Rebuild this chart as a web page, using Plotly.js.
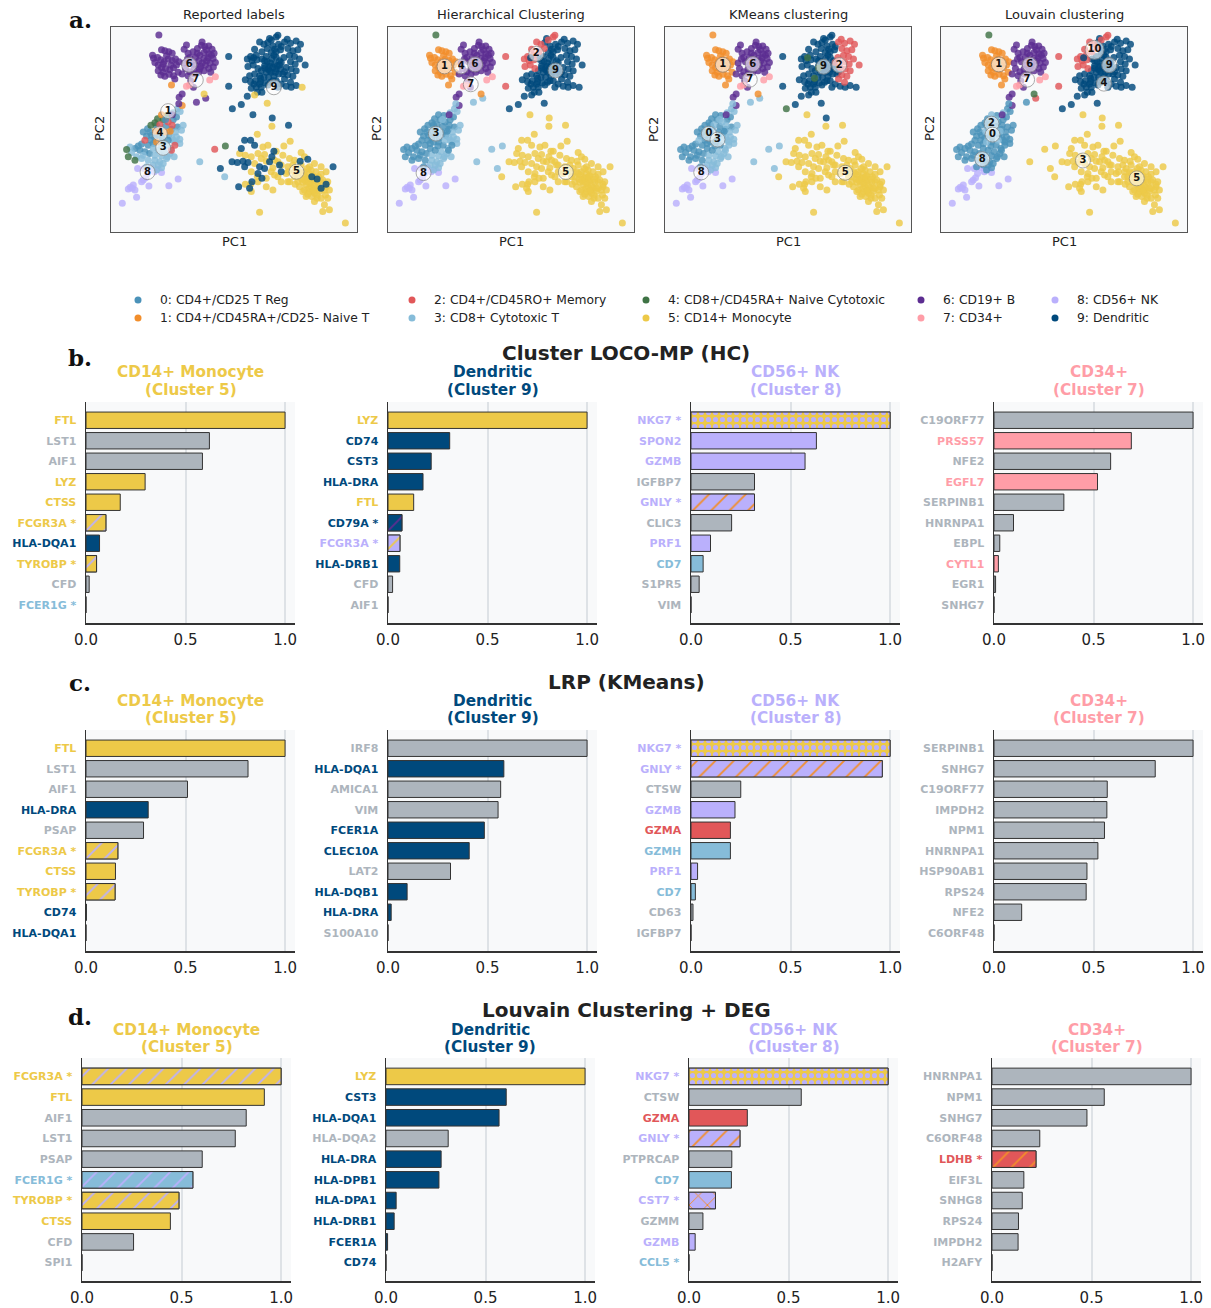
<!DOCTYPE html>
<html><head><meta charset="utf-8">
<script src="https://cdn.plot.ly/plotly-3.0.1.min.js"></script>
<style>body{margin:0;background:#fff}</style>
</head><body><div id="chart" style="width:1211px;height:1308px"></div>
<script>
// ---------- legend / clusters ----------
const clusterNames = ['0: CD4+/CD25 T Reg','1: CD4+/CD45RA+/CD25- Naive T','2: CD4+/CD45RO+ Memory','3: CD8+ Cytotoxic T','4: CD8+/CD45RA+ Naive Cytotoxic','5: CD14+ Monocyte','6: CD19+ B','7: CD34+','8: CD56+ NK','9: Dendritic'];
const clusterColors = ['#4b92b9','#f28e2b','#e15759','#86bcd9','#3f7345','#edc948','#5c2d91','#ff9da7','#bab0fc','#00497c'];
const grayColor = '#adb5bd';
const scatterTitles = ['Reported labels','Hierarchical Clustering','KMeans clustering','Louvain clustering'];

// ---------- PCA points (PC1, PC2 pairs), colour index per panel: [reported, HC, KMeans, Louvain] ----------
const grpOutlierTop = [152,27];
const grpBcellLeft = [160,72,170,75,182,78,192,82,133,88,136,97,148,95,158,102,168,108,180,100,192,104,202,100,212,108,205,118,196,126,185,132,172,128,160,125,150,118,158,148,170,152,183,146,196,150,210,140,200,160,165,140,140,110,175,90,188,118,165,115,150,135];
const grpOrangeRep = [190,178];
const grpOrangeRep2 = [222,240];
const grpBcellRight = [235,57,282,48,228,70,240,82,255,78,268,68,290,62,302,60,312,70,318,82,302,84,288,80,275,88,262,95,272,106,288,98,300,96,315,98,322,110,306,112,292,118,278,122,262,118,250,108,238,100,228,112,232,128,245,138,258,145,272,140,288,135,302,128,316,124,240,150,222,145,248,165,256,185,222,205,213,215,192,268,295,72,280,58,245,95,308,140,296,105,282,112,268,82,310,88,258,130,275,130];
const grpPink = [235,182,244,178,305,163,322,153];
const grpBridgeBlue = [212,235,265,230];
const grpBridgeRed = [293,218];
const grpBridgeGreen = [288,205];
const grpDcTopLeft = [455,48,468,55,490,42,505,33,478,68,462,78,445,88,428,92,418,100,432,105,447,102,420,122,436,118,450,128,362,92,362,182,440,70,510,28];
const grpDcRight = [530,48,548,52,565,45,578,55,540,68,555,75,570,72,545,88,560,92,575,100,592,118,548,108,562,115,535,125,550,130,565,135,540,148,555,152,530,160,548,170,520,110,528,95,538,40];
const grpDc = [480,50,495,60,512,55,518,72,505,78,490,80,475,92,462,100,478,108,492,98,505,95,515,105,500,115,485,122,470,120,460,135,475,140,490,140,505,130,518,130,512,145,498,152,482,155,468,155,455,150,440,145,425,150,412,162,428,168,442,165,458,168,472,172,488,170,505,165,520,175,535,182,550,185,565,180,445,185,460,185,430,188,448,200,462,200,418,212,400,237,498,88,485,135,508,120,488,112,495,125,480,130,470,105,503,140,515,118,525,145,530,138,495,165,480,178,510,185,455,175,438,175,520,62,500,70,485,38];
const grpDcYellowRep = [583,185,478,233,440,208];
const grpDcGreenKm = [373,250,437,96,470,127,458,158];
const grpDcMid = [493,278];
const grpMono = [492,303,448,327,547,348,528,362,465,365,480,360,505,378,450,385,470,388,395,385,412,390,525,390,545,400,560,405,580,382,590,395,620,415,640,425,655,440,440,415,475,408,510,410,495,428,430,440,448,455,490,440,500,450,535,445,565,430,575,440,590,440,605,445,615,452,598,458,582,462,570,470,585,472,600,470,615,468,630,472,645,465,660,470,595,480,610,485,625,488,575,485,562,478,545,470,590,495,605,500,620,505,635,500,650,495,665,495,595,515,612,515,628,520,640,520,660,520,620,530,650,540,645,560,665,555,455,562,713,595,412,478,450,470,475,485,495,495,520,470,540,470,560,455,428,478,430,500,542,440,555,420,580,420,605,425,625,440,640,448,610,435,598,430,587,450,603,490,618,495,632,455,653,510,475,460,510,455,600,460,607,475,590,465,620,480,635,490,615,498,628,510,600,508,585,500,612,462,640,470,655,485,570,455,580,445,560,440,520,420,540,425,500,405,460,400,430,395];
const grpMonoNavyRep = [410,345,428,345,440,360,400,370,405,408,420,412,388,412,372,410,455,425,492,395,498,378,485,410,392,485,425,490,462,460,450,445,577,408,600,402,612,455,628,462,655,478,676,425,640,490,520,440,470,430,432,470,410,425,515,420,435,268,542,300];
const grpMiscRed = [320,372];
const grpMiscGreen = [352,362];
const grpMiscLight = [275,410];
const grpMiscNavy = [337,430];
const grpMiscLight2 = [350,455];
const grpNK = [88,430,108,430,128,428,150,432,160,442,118,445,105,465,75,480,66,487,60,492,80,495,72,490,122,483,85,517,42,535,182,482,210,462,112,458,100,470,138,440];
const grpTcellA = [195,283,205,275,172,303,208,305,118,310,105,320,115,332,130,330,128,345,100,356,120,360,80,370,95,375,110,380,124,385,150,310,162,338,140,338,182,330,90,362,150,330,160,350,135,355,125,320,145,300,190,312];
const grpTcellB = [220,315,202,320,205,335,215,342,196,345,215,355,188,370,168,380,185,385,160,392,140,405,155,410,135,420,145,435,160,428,140,390,208,250,216,258,225,300,198,395,175,400,178,395,165,415,150,420,200,350,190,335];
const grpTcellC = [174,360,158,362,135,370,150,375,120,405,100,400,85,395,70,382,65,365,115,425,105,390];
const grpTcellGreen = [148,280,165,283,140,292,128,300,60,395,80,405,55,373,176,270];
const grpTcellRed = [180,290,155,298,192,300,110,345,200,360,190,375];
const grpTcellOrange = [142,318,170,320,186,318,145,350,160,268];
const grpTcellG = [180,345,172,282,195,262];

const pointGroups = [
  [grpMono,[5,5,5,5]],[grpMonoNavyRep,[9,5,5,5]],[grpDcMid,[9,5,9,5]],
  [grpMiscRed,[2,3,3,5]],[grpMiscGreen,[4,3,3,5]],[grpMiscLight,[3,3,3,5]],[grpMiscNavy,[9,3,3,5]],[grpMiscLight2,[3,5,5,5]],
  [grpDc,[9,9,9,9]],[grpDcTopLeft,[9,2,9,2]],[grpDcRight,[9,9,2,9]],[grpDcYellowRep,[5,9,9,9]],[grpDcGreenKm,[9,9,4,9]],
  [grpNK,[8,8,8,8]],
  [grpTcellA,[0,0,0,0]],[grpTcellB,[3,3,3,0]],[grpTcellC,[3,0,0,0]],[grpTcellGreen,[4,0,0,0]],[grpTcellRed,[2,0,3,0]],[grpTcellOrange,[1,0,0,3]],[grpTcellG,[0,3,3,3]],
  [grpBcellLeft,[6,1,1,1]],[grpOutlierTop,[6,4,1,4]],[grpOrangeRep,[1,1,1,1]],[grpOrangeRep2,[1,6,6,6]],
  [grpBcellRight,[6,6,6,6]],[grpBridgeBlue,[6,3,3,0]],[grpBridgeRed,[6,3,3,2]],[grpBridgeGreen,[5,1,1,4]],
  [grpPink,[7,7,7,7]]
];

// cluster id markers [label, PC1, PC2]
const centersReported = [['6',243,117],['7',263,163],['9',498,185],['1',180,257],['4',155,325],['3',165,368],['8',118,441],['5',566,440]];
const centersHC = [['1',178,122],['4',228,122],['6',270,116],['7',257,176],['2',454,84],['9',512,134],['3',152,325],['8',115,444],['5',543,441]];
const centersKMeans = [['1',182,117],['6',272,115],['7',263,162],['9',485,123],['2',532,118],['0',140,325],['3',166,343],['8',117,442],['5',550,443]];
const centersLouvain = [['10',470,72],['1',182,116],['6',275,117],['7',267,162],['9',514,118],['4',498,174],['2',160,295],['0',163,328],['8',132,402],['3',435,406],['5',597,460]];
const allCenters = [centersReported,centersHC,centersKMeans,centersLouvain];

// ---------- bar panels (style: 1 char = solid colour; 4 chars = label, fill, hatch, hatch colour) ----------
const rowTitles = ['Cluster LOCO-MP (HC)','LRP (KMeans)','Louvain Clustering + DEG'];
const colTitles = [['CD14+ Monocyte','(Cluster 5)'],['Dendritic','(Cluster 9)'],['CD56+ NK','(Cluster 8)'],['CD34+','(Cluster 7)']];
const colTitleKeys = ['Y','N','L','P'];

const hcMonoGenes = ['FTL','LST1','AIF1','LYZ','CTSS','FCGR3A *','HLA-DQA1','TYROBP *','CFD','FCER1G *'];
const hcMonoValues = [1.0,0.62,0.585,0.297,0.172,0.10,0.068,0.053,0.016,0];
const hcMonoStyle = ['Y','G','G','Y','Y','YY/L','N','YY/L','G','B'];
const hcDcGenes = ['LYZ','CD74','CST3','HLA-DRA','FTL','CD79A *','FCGR3A *','HLA-DRB1','CFD','AIF1'];
const hcDcValues = [1.0,0.31,0.217,0.176,0.129,0.07,0.06,0.059,0.023,0];
const hcDcStyle = ['Y','N','N','N','Y','NN/U','LL/Y','N','G','G'];
const hcNkGenes = ['NKG7 *','SPON2','GZMB','IGFBP7','GNLY *','CLIC3','PRF1','CD7','S1PR5','VIM'];
const hcNkValues = [1.0,0.63,0.573,0.319,0.319,0.204,0.098,0.061,0.041,0];
const hcNkStyle = ['LY.L','L','L','G','LL/O','G','L','B','G','G'];
const hcCd34Genes = ['C19ORF77','PRSS57','NFE2','EGFL7','SERPINB1','HNRNPA1','EBPL','CYTL1','EGR1','SNHG7'];
const hcCd34Values = [1.0,0.69,0.586,0.52,0.351,0.098,0.029,0.022,0.008,0];
const hcCd34Style = ['G','P','G','P','G','G','G','P','G','G'];

const lrpMonoGenes = ['FTL','LST1','AIF1','HLA-DRA','PSAP','FCGR3A *','CTSS','TYROBP *','CD74','HLA-DQA1'];
const lrpMonoValues = [1.0,0.814,0.51,0.3125,0.289,0.16,0.148,0.146,0.002,0];
const lrpMonoStyle = ['Y','G','G','N','G','YY/L','Y','YY/L','N','N'];
const lrpDcGenes = ['IRF8','HLA-DQA1','AMICA1','VIM','FCER1A','CLEC10A','LAT2','HLA-DQB1','HLA-DRA','S100A10'];
const lrpDcValues = [1.0,0.582,0.566,0.553,0.484,0.408,0.314,0.096,0.016,0];
const lrpDcStyle = ['G','N','G','G','N','N','G','N','N','G'];
const lrpNkGenes = ['NKG7 *','GNLY *','CTSW','GZMB','GZMA','GZMH','PRF1','CD7','CD63','IGFBP7'];
const lrpNkValues = [1.0,0.961,0.25,0.221,0.198,0.198,0.033,0.022,0.01,0];
const lrpNkStyle = ['LY.L','LL/O','G','L','R','B','L','B','G','G'];
const lrpCd34Genes = ['SERPINB1','SNHG7','C19ORF77','IMPDH2','NPM1','HNRNPA1','HSP90AB1','RPS24','NFE2','C6ORF48'];
const lrpCd34Values = [1.0,0.81,0.569,0.567,0.555,0.522,0.467,0.463,0.139,0];
const lrpCd34Style = ['G','G','G','G','G','G','G','G','G','G'];

const degMonoGenes = ['FCGR3A *','FTL','AIF1','LST1','PSAP','FCER1G *','TYROBP *','CTSS','CFD','SPI1'];
const degMonoValues = [1.0,0.916,0.825,0.77,0.604,0.557,0.487,0.444,0.259,0];
const degMonoStyle = ['YY/L','Y','G','G','G','BB/L','YY/L','Y','G','G'];
const degDcGenes = ['LYZ','CST3','HLA-DQA1','HLA-DQA2','HLA-DRA','HLA-DPB1','HLA-DPA1','HLA-DRB1','FCER1A','CD74'];
const degDcValues = [1.0,0.604,0.568,0.3125,0.277,0.266,0.051,0.041,0.008,0];
const degDcStyle = ['Y','N','N','G','N','N','N','N','N','N'];
const degNkGenes = ['NKG7 *','CTSW','GZMA','GNLY *','PTPRCAP','CD7','CST7 *','GZMM','GZMB','CCL5 *'];
const degNkValues = [1.0,0.564,0.293,0.256,0.215,0.213,0.133,0.07,0.031,0];
const degNkStyle = ['LY.L','G','R','LL/O','G','B','LLxO','G','L','B'];
const degCd34Genes = ['HNRNPA1','NPM1','SNHG7','C6ORF48','LDHB *','EIF3L','SNHG8','RPS24','IMPDH2','H2AFY'];
const degCd34Values = [1.0,0.564,0.477,0.24,0.221,0.16,0.152,0.133,0.131,0];
const degCd34Style = ['G','G','G','G','RR/O','G','G','G','G','G'];

const barPanels = [
  [hcMonoGenes,hcMonoValues,hcMonoStyle],[hcDcGenes,hcDcValues,hcDcStyle],[hcNkGenes,hcNkValues,hcNkStyle],[hcCd34Genes,hcCd34Values,hcCd34Style],
  [lrpMonoGenes,lrpMonoValues,lrpMonoStyle],[lrpDcGenes,lrpDcValues,lrpDcStyle],[lrpNkGenes,lrpNkValues,lrpNkStyle],[lrpCd34Genes,lrpCd34Values,lrpCd34Style],
  [degMonoGenes,degMonoValues,degMonoStyle],[degDcGenes,degDcValues,degDcStyle],[degNkGenes,degNkValues,degNkStyle],[degCd34Genes,degCd34Values,degCd34Style]
];

// ---------- build ----------
const W = 1211, H = 1308;
const fx = p => p / W, fy = p => 1 - p / H;
const colorKey = {Y:clusterColors[5],N:clusterColors[9],L:clusterColors[8],B:clusterColors[3],R:clusterColors[2],P:clusterColors[7],O:clusterColors[1],U:clusterColors[6],G:grayColor};
const FONT = 'DejaVu Sans, sans-serif';

const traces = [];
const layout = {
  width: W, height: H, margin: {l:0,r:0,t:0,b:0},
  paper_bgcolor: '#ffffff', plot_bgcolor: '#f8f9fa', showlegend: false,
  font: {family: FONT, color: '#222'}, annotations: [], shapes: [], barmode: 'overlay'
};
const ann = (text, x, y, opts) => layout.annotations.push(Object.assign({text, x: fx(x), y: fy(y), xref:'paper', yref:'paper', showarrow:false, xanchor:'center', yanchor:'middle'}, opts || {}));

// scatter panels
const scatterX = [[111,357],[388,634],[665,911],[941,1187]];
for (let p = 0; p < 4; p++) {
  const sfx = p === 0 ? '' : String(p + 1);
  const xs = [], ys = [], cs = [];
  pointGroups.forEach(([pts, labs]) => {
    for (let i = 0; i < pts.length; i += 2) { xs.push(pts[i]); ys.push(pts[i+1]); cs.push(clusterColors[labs[p]]); }
  });
  traces.push({type:'scatter', mode:'markers', x:xs, y:ys, xaxis:'x'+sfx, yaxis:'y'+sfx,
    marker:{color:cs, size:7, opacity:0.82, line:{width:0}}, hoverinfo:'skip'});
  const cen = allCenters[p];
  traces.push({type:'scatter', mode:'markers+text', x:cen.map(c=>c[1]), y:cen.map(c=>c[2]), xaxis:'x'+sfx, yaxis:'y'+sfx,
    text:cen.map(c=>'<b>'+c[0]+'</b>'), textposition:'middle center', textfont:{size:10, color:'#111', family:FONT},
    marker:{size:cen.map(c=>c[0].length>1?19:15), color:'rgba(255,255,255,0.85)', line:{color:'#8a8a8a', width:1}}, hoverinfo:'skip'});
  const axBase = {showline:true, mirror:true, linecolor:'#555', linewidth:1.4, showticklabels:false, ticks:'', showgrid:false, zeroline:false, fixedrange:true};
  layout['xaxis'+sfx] = Object.assign({}, axBase, {domain:[fx(scatterX[p][0]), fx(scatterX[p][1])], range:[8,748], anchor:'y'+sfx});
  layout['yaxis'+sfx] = Object.assign({}, axBase, {domain:[fy(232), fy(27)], range:[622,3], anchor:'x'+sfx});
  const cx = (scatterX[p][0] + scatterX[p][1]) / 2;
  ann(scatterTitles[p], cx, 15, {font:{size:13, color:'#222'}});
  ann('PC1', cx, 242, {font:{size:13, color:'#222'}});
  ann('PC2', scatterX[p][0] - 12, 129, {font:{size:13, color:'#222'}, textangle:-90});
}

// legend
const legTextX = [158, 432, 666, 941, 1075];
const legRowY = [300, 318];
for (let k = 0; k < 10; k++) {
  const col = Math.floor(k / 2), row = k % 2;
  const cx = legTextX[col] - 20, cy = legRowY[row];
  layout.shapes.push({type:'circle', xref:'paper', yref:'paper', x0:fx(cx-3.5), x1:fx(cx+3.5), y0:fy(cy+3.5), y1:fy(cy-3.5), fillcolor:clusterColors[k], line:{width:0}});
  ann(clusterNames[k], legTextX[col], cy, {xanchor:'left', font:{size:12.3, color:'#222'}});
}

// panel letters
[['a.',80,20],['b.',80,358],['c.',80,682],['d.',80,1016]].forEach(([t,x,y]) =>
  ann('<b>'+t+'</b>', x, y, {font:{family:'DejaVu Serif, serif', size:23, color:'#111'}}));

// bar panels
const rowY = [[402,623],[730,951],[1058,1281]];
const colX = [
  [[86,295],[388,597],[691,900],[994,1203]],
  [[86,295],[388,597],[691,900],[994,1203]],
  [[82,291],[386,595],[689,898],[992,1201]]
];
const rowTitleY = [353, 682, 1010];
const subTitleY = [[372,389.5],[701,718.5],[1029.5,1047]];
for (let r = 0; r < 3; r++) {
  ann('<b>'+rowTitles[r]+'</b>', 626, rowTitleY[r], {font:{size:20, color:'#222'}});
  for (let c = 0; c < 4; c++) {
    const n = 5 + r * 4 + c;
    const [genes, values, style] = barPanels[r * 4 + c];
    const labCol = [], fill = [];
    const hatched = [];
    style.forEach((s, i) => {
      if (s.length === 1) { labCol.push(colorKey[s]); fill.push(colorKey[s]); }
      else {
        labCol.push(colorKey[s[0]]); fill.push(colorKey[s[1]]);
        hatched.push({i, bg:colorKey[s[1]], shape:s[2], fg:colorKey[s[3]]});
      }
    });
    traces.push({type:'bar', orientation:'h', x:values, y:genes, xaxis:'x'+n, yaxis:'y'+n, width:0.8,
      marker:{color:fill, line:{color:'#333', width:1}}, hoverinfo:'skip'});
    hatched.forEach(h => {
      const dots = h.shape === '.';
      traces.push({type:'bar', orientation:'h', x:[values[h.i]], y:[genes[h.i]], xaxis:'x'+n, yaxis:'y'+n, width:0.8,
        marker:{color:h.bg, line:{color:'#333', width:1},
          pattern:{shape:h.shape, fgcolor:h.fg, bgcolor:h.bg, fgopacity:1, size:dots?7:13, solidity:dots?0.42:0.14, fillmode:'replace'}},
        hoverinfo:'skip'});
    });
    const [x0, x1] = colX[r][c];
    layout['xaxis'+n] = {domain:[fx(x0), fx(x1)], anchor:'y'+n, range:[0,1.05], tickmode:'array', tickvals:[0,0.5,1], ticktext:['0.0','0.5','1.0'],
      showgrid:true, gridcolor:'#dee2e6', gridwidth:2, zeroline:false, showline:true, linecolor:'#333', linewidth:1.5, ticks:'',
      tickfont:{size:15, color:'#222', family:FONT}, ticklabelstandoff:2, fixedrange:true};
    layout['yaxis'+n] = {domain:[fy(rowY[r][1]), fy(rowY[r][0])], anchor:'x'+n, type:'category', categoryorder:'array', categoryarray:genes,
      range:[9.89,-0.89], tickmode:'array', tickvals:genes,
      ticktext:genes.map((g,i)=>'<span style="color:'+labCol[i]+'"><b>'+g+'</b></span>'),
      showgrid:false, zeroline:false, showline:true, linecolor:'#333', linewidth:1.5, ticks:'',
      tickfont:{size:11, family:FONT}, ticklabelstandoff:6, fixedrange:true};
    const tc = colorKey[colTitleKeys[c]];
    ann('<b>'+colTitles[c][0]+'</b>', (x0 + x1) / 2, subTitleY[r][0], {font:{size:15.3, color:tc}});
    ann('<b>'+colTitles[c][1]+'</b>', (x0 + x1) / 2, subTitleY[r][1], {font:{size:15.3, color:tc}});
  }
}

Plotly.newPlot('chart', traces, layout, {staticPlot:true, displayModeBar:false});
</script></body></html>
